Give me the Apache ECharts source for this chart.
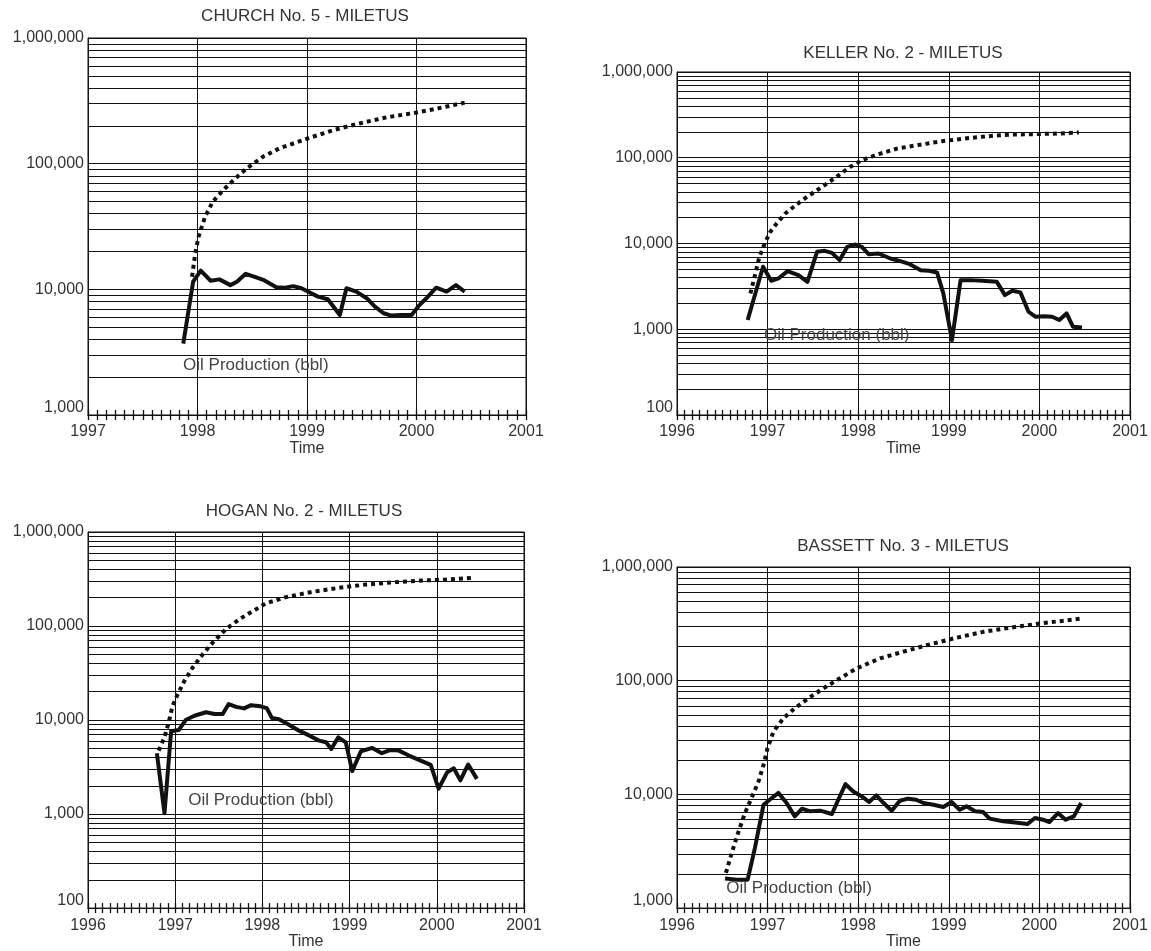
<!DOCTYPE html>
<html lang="en">
  <head>
    <meta charset="UTF-8" />
    <title>Miletus wells - oil production</title>
    <script src="https://cdn.jsdelivr.net/npm/echarts@6/dist/echarts.min.js"></script>
    <style>
      body { margin: 0; background: #fff; }
    </style>
  </head>
  <body>
    <div id="chart" style="width: 1151px; height: 951px"></div>
    <script>
      // values (time in decimal years, volumes in bbl)
      const titles = [
        "CHURCH No. 5 - MILETUS",
        "KELLER No. 2 - MILETUS",
        "HOGAN No. 2 - MILETUS",
        "BASSETT No. 3 - MILETUS",
      ];
      const oilLabel = "Oil Production (bbl)";

      const churchOilYear = [1997.87, 1997.96, 1998.03, 1998.12, 1998.2, 1998.3, 1998.36, 1998.44, 1998.53, 1998.6, 1998.72, 1998.8, 1998.875, 1998.95, 1999.03, 1999.1, 1999.19, 1999.3, 1999.36, 1999.45, 1999.545, 1999.62, 1999.7, 1999.77, 1999.865, 1999.955, 2000.02, 2000.09, 2000.18, 2000.275, 2000.36, 2000.44];
      const churchOil = [3700, 11500, 14100, 11700, 12000, 10800, 11500, 13300, 12500, 11900, 10400, 10300, 10600, 10200, 9400, 8750, 8340, 6250, 10200, 9600, 8500, 7280, 6450, 6180, 6250, 6250, 7380, 8490, 10300, 9600, 10800, 9600];
      const churchCumYear = [1997.95, 1997.98, 1998.01, 1998.07, 1998.14, 1998.235, 1998.33, 1998.45, 1998.6, 1998.75, 1999.0, 1999.24, 1999.48, 1999.73, 2000.0, 2000.245, 2000.44];
      const churchCum = [12600, 19400, 26300, 38000, 49900, 61700, 74100, 91800, 114000, 132600, 158000, 185000, 209000, 234000, 255000, 281000, 306000];

      const kellerOilYear = [1996.78, 1996.95, 1997.04, 1997.12, 1997.22, 1997.34, 1997.44, 1997.545, 1997.63, 1997.71, 1997.795, 1997.88, 1997.97, 1998.04, 1998.115, 1998.225, 1998.355, 1998.465, 1998.57, 1998.69, 1998.78, 1998.87, 1998.94, 1999.035, 1999.13, 1999.24, 1999.37, 1999.53, 1999.62, 1999.7, 1999.79, 1999.88, 1999.955, 2000.05, 2000.14, 2000.22, 2000.3, 2000.37, 2000.47];
      const kellerOil = [1280, 5350, 3670, 3910, 4760, 4280, 3570, 8000, 8220, 7780, 6400, 9140, 9730, 9140, 7510, 7640, 6680, 6220, 5740, 4890, 4800, 4600, 2610, 748, 3740, 3740, 3670, 3570, 2500, 2810, 2690, 1600, 1400, 1420, 1400, 1280, 1530, 1070, 1050];
      const kellerCumYear = [1996.81, 1996.865, 1996.91, 1996.975, 1997.03, 1997.1, 1997.195, 1997.31, 1997.435, 1997.545, 1997.655, 1997.785, 1997.91, 1998.04, 1998.21, 1998.43, 1998.685, 1998.925, 1999.165, 1999.42, 1999.68, 1999.975, 2000.23, 2000.435];
      const kellerCum = [2610, 4470, 7000, 10400, 13700, 17100, 22400, 28000, 35000, 41800, 50000, 62500, 78200, 93500, 109000, 128000, 142000, 156000, 167000, 178000, 186000, 189000, 192000, 197000];

      const hoganOilYear = [1996.79, 1996.877, 1996.953, 1997.04, 1997.12, 1997.22, 1997.354, 1997.45, 1997.545, 1997.613, 1997.7, 1997.79, 1997.87, 1997.98, 1998.05, 1998.11, 1998.19, 1998.29, 1998.42, 1998.54, 1998.65, 1998.73, 1998.79, 1998.87, 1998.956, 1999.03, 1999.13, 1999.26, 1999.37, 1999.47, 1999.566, 1999.68, 1999.795, 1999.93, 2000.02, 2000.12, 2000.195, 2000.27, 2000.36, 2000.46];
      const hoganOil = [4440, 1020, 7590, 7830, 10000, 11100, 12100, 11600, 11600, 14800, 13800, 13300, 14400, 14000, 13400, 10500, 10200, 9070, 7710, 6820, 6040, 5800, 4930, 6550, 5800, 2860, 4660, 5050, 4440, 4810, 4730, 4190, 3770, 3330, 1860, 2790, 3070, 2280, 3370, 2370];
      const hoganCumYear = [1996.81, 1996.877, 1996.93, 1996.97, 1997.03, 1997.106, 1997.2, 1997.316, 1997.43, 1997.58, 1997.735, 1997.89, 1998.04, 1998.27, 1998.575, 1998.88, 1999.185, 1999.53, 1999.833, 2000.1, 2000.405];
      const hoganCum = [4730, 6540, 9840, 14200, 18900, 26100, 36200, 50100, 66600, 92200, 118000, 144000, 174000, 203000, 231000, 255000, 276000, 293000, 305000, 312000, 325000];

      const bassettOilYear = [1996.53, 1996.66, 1996.78, 1996.86, 1996.955, 1997.047, 1997.12, 1997.21, 1997.3, 1997.38, 1997.47, 1997.58, 1997.71, 1997.78, 1997.86, 1997.946, 1998.04, 1998.12, 1998.2, 1998.28, 1998.37, 1998.46, 1998.55, 1998.64, 1998.72, 1998.83, 1998.94, 1999.03, 1999.12, 1999.195, 1999.29, 1999.38, 1999.45, 1999.6, 1999.71, 1999.87, 1999.95, 2000.04, 2000.11, 2000.205, 2000.29, 2000.38, 2000.46];
      const bassettOil = [1820, 1780, 1780, 3380, 8110, 9290, 10300, 8400, 6410, 7480, 7100, 7200, 6720, 8970, 12300, 10600, 9600, 8570, 9800, 8400, 7190, 8790, 9170, 8970, 8400, 8110, 7740, 8570, 7330, 7850, 7100, 6990, 6120, 5800, 5680, 5490, 6200, 5990, 5710, 6850, 5990, 6410, 8400];
      const bassettCumYear = [1996.54, 1996.61, 1996.68, 1996.75, 1996.83, 1996.9, 1996.955, 1996.999, 1997.065, 1997.175, 1997.3, 1997.45, 1997.616, 1997.8, 1997.98, 1998.24, 1998.5, 1998.754, 1999.05, 1999.38, 1999.746, 2000.003, 2000.46];
      const bassettCum = [2040, 3160, 4730, 6850, 9600, 13000, 18200, 25500, 35700, 46800, 57200, 70000, 85700, 105000, 128000, 157000, 180000, 205000, 235000, 269000, 298000, 318000, 352000];

      // axis ranges and where the "Oil Production (bbl)" text sits (data coords)
      const xRanges = [[1997, 2001], [1996, 2001], [1996, 2001], [1996, 2001]];
      const yRanges = [[1000, 1000000], [100, 1000000], [100, 1000000], [1000, 1000000]];
      const labelAnchors = [[1997.868, 2500], [1996.96, 853], [1997.149, 1400], [1996.544, 1490]];

      const wells = [
        [churchOilYear, churchOil, churchCumYear, churchCum],
        [kellerOilYear, kellerOil, kellerCumYear, kellerCum],
        [hoganOilYear, hoganOil, hoganCumYear, hoganCum],
        [bassettOilYear, bassettOil, bassettCumYear, bassettCum],
      ];

      // layout
      const grids = [
        { left: 88, top: 38, width: 438, height: 377 },
        { left: 677, top: 72, width: 453, height: 343 },
        { left: 88, top: 532, width: 436, height: 377 },
        { left: 677, top: 567, width: 453, height: 344 },
      ];
      const titlePos = [[305, 16], [903, 53], [304, 511], [903, 546]];

      const FONT = "'Liberation Sans', Arial, sans-serif";
      const INK = "#111";
      const TEXT = "#333";

      const zip = (xs, ys) => xs.map((x, i) => [x, ys[i]]);

      // log grid lines at 1..9 x each decade
      const logLines = (min, max) => {
        const out = [];
        for (let d = min; d < max; d *= 10) {
          for (let k = 1; k < 10; k++) out.push({ yAxis: k * d });
        }
        out.push({ yAxis: max });
        return out;
      };

      const xAxis = [];
      const yAxis = [];
      const series = [];

      grids.forEach((g, i) => {
        const [x0, x1] = xRanges[i];
        const [y0, y1] = yRanges[i];
        const base = {
          gridIndex: i,
          type: "value",
          min: x0,
          max: x1,
          interval: 1,
          position: "bottom",
          axisLine: { show: true, lineStyle: { color: INK, width: 1 } },
          axisTick: { show: true, length: 5, lineStyle: { color: INK, width: 1.3 } },
          minorTick: { show: true, splitNumber: 12, length: 5, lineStyle: { color: INK, width: 1.3 } },
        };
        xAxis.push({
          ...base,
          name: "Time",
          nameLocation: "middle",
          nameGap: 25,
          nameTextStyle: { color: TEXT, fontSize: 16, fontFamily: FONT },
          axisLabel: {
            color: TEXT,
            fontSize: 16,
            fontFamily: FONT,
            margin: 9,
            formatter: (v) => String(Math.round(v)),
          },
          splitLine: { show: true, lineStyle: { color: INK, width: 1 } },
        });
        // same axis again with ticks pointing inwards, so ticks cross the line
        xAxis.push({
          ...base,
          axisTick: { ...base.axisTick, inside: true },
          axisLabel: { show: false },
          splitLine: { show: false },
        });
        yAxis.push({
          gridIndex: i,
          type: "log",
          logBase: 10,
          min: y0,
          max: y1,
          axisLine: { show: true, lineStyle: { color: INK } },
          axisTick: { show: false },
          splitLine: { show: false },
          axisLabel: {
            color: TEXT,
            fontSize: 16,
            fontFamily: FONT,
            margin: 4,
            formatter: (v) => {
              const s = Math.round(v).toLocaleString("en-US");
              return Math.round(v) === y0 ? "{lo|" + s + "}" : s;
            },
            rich: { lo: { color: TEXT, fontSize: 16, fontFamily: FONT, padding: [0, 0, 15, 0] } },
          },
        });

        const [oilYear, oil, cumYear, cum] = wells[i];
        series.push({
          type: "line",
          xAxisIndex: 2 * i,
          yAxisIndex: i,
          data: zip(oilYear, oil),
          showSymbol: false,
          lineStyle: { color: INK, width: 4, join: "round" },
          z: 3,
          markLine: {
            silent: true,
            z: 1,
            symbol: "none",
            label: { show: false },
            lineStyle: { color: INK, width: 1, type: "solid" },
            data: logLines(y0, y1),
          },
          markPoint: {
            silent: true,
            symbol: "rect",
            symbolSize: 0,
            label: {
              show: true,
              position: "right",
              distance: 0,
              formatter: oilLabel,
              color: "#444",
              fontSize: 17,
              fontFamily: FONT,
            },
            data: [{ coord: labelAnchors[i] }],
          },
        });
        series.push({
          type: "line",
          xAxisIndex: 2 * i,
          yAxisIndex: i,
          data: zip(cumYear, cum),
          showSymbol: false,
          z: 3,
          lineStyle: { color: INK, width: 4, type: [4, 4], cap: "butt" },
        });
      });

      const option = {
        animation: false,
        backgroundColor: "#fff",
        textStyle: { fontFamily: FONT },
        grid: grids.map((g) => ({ ...g, show: true, borderColor: INK, borderWidth: 1, backgroundColor: "transparent" })),
        xAxis,
        yAxis,
        series,
        graphic: titles.map((t, i) => ({
          type: "text",
          x: titlePos[i][0],
          y: titlePos[i][1],
          style: {
            text: t,
            fill: TEXT,
            fontSize: 17,
            fontFamily: FONT,
            align: "center",
            verticalAlign: "middle",
          },
        })),
      };

      const chart = echarts.init(document.getElementById("chart"));
      chart.setOption(option);
    </script>
  </body>
</html>
